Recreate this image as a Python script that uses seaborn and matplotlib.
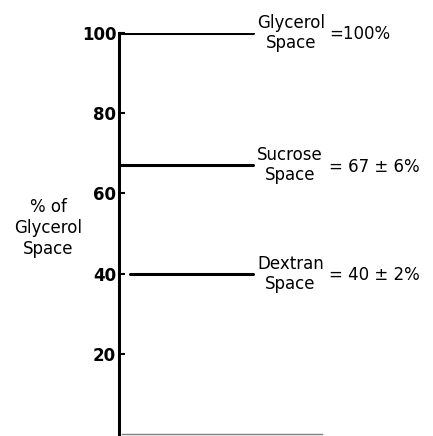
import pandas as pd
import matplotlib
matplotlib.use("Agg")
import matplotlib.pyplot as plt
import seaborn as sns

# valores
espacos = ["Glycerol", "Sucrose", "Dextran"]
percentuais = [100, 67, 40]
textos_valor = ["=100%", "= 67 \u00b1 6%", "= 40 \u00b1 2%"]
ticks_y = [20, 40, 60, 80, 100]

# inicio / fim de cada traco (fracao do eixo x)
inicio_linha = [0.0, 0.0, 0.035]
fim_linha = [0.427, 0.427, 0.427]

sns.set_style("ticks")
plt.rcParams["font.family"] = ["DejaVu Sans"]
plt.rcParams["text.color"] = "black"

linhas = []
for nome, valor, x0, x1 in zip(espacos, percentuais, inicio_linha, fim_linha):
    linhas.append({"espaco": nome, "x": x0, "pct": valor})
    linhas.append({"espaco": nome, "x": x1, "pct": valor})
df = pd.DataFrame(linhas)

fig = plt.figure(figsize=(4.33, 4.36), dpi=100)
ax = fig.add_axes([119 / 433, 2 / 436, 314 / 433, 401 / 436])

sns.lineplot(data=df, x="x", y="pct", units="espaco", estimator=None,
             color="black", linewidth=2.2, ax=ax, legend=False)

ax.set_xlim(0, 1)
ax.set_ylim(0, 100)
ax.set_yticks(ticks_y)
ax.set_yticklabels([str(t) for t in ticks_y], fontweight="bold", fontsize=12)
ax.tick_params(axis="y", direction="in", length=4, width=1.5, pad=2, colors="black")
ax.tick_params(axis="x", bottom=False, labelbottom=False)
ax.set_xlabel("")
ax.set_ylabel("")

sns.despine(ax=ax, top=True, right=True)
ax.spines["left"].set_linewidth(2.2)
ax.spines["left"].set_color("black")
ax.spines["bottom"].set_linewidth(1.0)
ax.spines["bottom"].set_color("#808080")
ax.spines["bottom"].set_bounds(0.01, 0.646)

# rotulos de cada espaco
for nome, valor, x1, txt in zip(espacos, percentuais, fim_linha, textos_valor):
    ax.annotate(f"{nome}\nSpace", xy=(x1, valor), xytext=(3, 0),
                textcoords="offset points", ha="left", va="center",
                multialignment="center", fontsize=12, linespacing=1.15,
                color="black")
    ax.annotate(txt, xy=(x1, valor), xytext=(55, -1),
                textcoords="offset points", ha="left", va="center",
                fontsize=12, color="black")

fig.text(48 / 433, 1 - 228 / 436, "% of\nGlycerol\nSpace", ha="center", va="center",
         multialignment="center", fontsize=12, linespacing=1.2, color="black")

fig.savefig("out.png", dpi=100)
